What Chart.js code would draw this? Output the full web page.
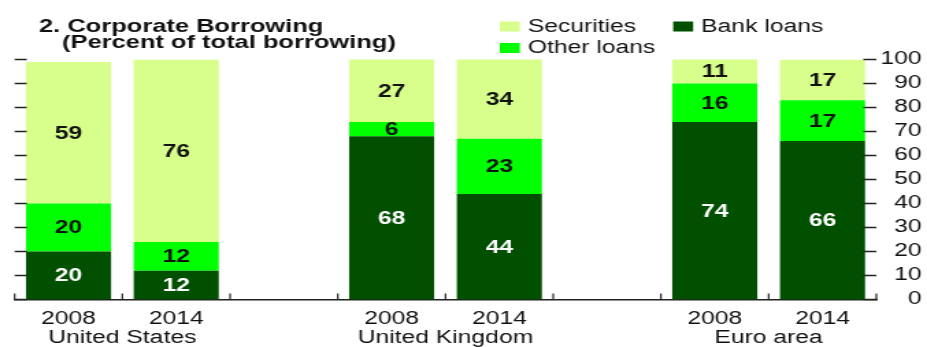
<!DOCTYPE html>
<html>
<head>
<meta charset="utf-8">
<script src="https://cdn.jsdelivr.net/npm/chart.js@4.4.0/dist/chart.umd.min.js"></script>
<style>
  html, body { margin: 0; padding: 0; background: #fff; overflow: hidden; }
  /* the panel is laid out narrow and stretched sideways, like the printed figure */
  #wrap { width: 677px; height: 347px; transform: scaleX(1.3693); transform-origin: 0 0; }
</style>
</head>
<body>
<div id="wrap"><canvas id="borrowing" width="677" height="347"></canvas></div>
<script>
// share of total corporate borrowing, percent (blank slots separate the regions)
const years = ['2008', '2014', '', '2008', '2014', '', '2008', '2014'];
const regions = ['United States', 'United Kingdom', 'Euro area'];
const bankLoans = [20, 12, null, 68, 44, null, 74, 66];
const otherLoans = [20, 12, null, 6, 23, null, 16, 17];
const securities = [59, 76, null, 27, 34, null, 11, 17];

const FONT = '"Liberation Sans", Arial, Helvetica, sans-serif';
const INK = '#111';

const titlePlugin = {
  id: 'panelTitle',
  afterDraw(chart) {
    const ctx = chart.ctx;
    ctx.save();
    ctx.fillStyle = INK;
    ctx.font = `bold 18.6px ${FONT}`;
    ctx.textBaseline = 'alphabetic';
    ctx.fillText('2. Corporate Borrowing', 28.5, 31.5);
    ctx.fillText('(Percent of total borrowing)', 45.3, 47.5);
    ctx.restore();
  }
};

// two-row legend: Securities / Bank loans, then Other loans
const legendPlugin = {
  id: 'panelLegend',
  afterDraw(chart) {
    const ctx = chart.ctx;
    const items = [
      { ds: 2, x: 365, y: 21.5 },
      { ds: 0, x: 491.6, y: 21.5 },
      { ds: 1, x: 365, y: 43 }
    ];
    ctx.save();
    ctx.font = `18px ${FONT}`;
    ctx.textBaseline = 'alphabetic';
    items.forEach(it => {
      const ds = chart.data.datasets[it.ds];
      ctx.fillStyle = ds.backgroundColor;
      ctx.fillRect(it.x, it.y, 14.6, 10);
      ctx.fillStyle = INK;
      ctx.fillText(ds.label, it.x + 20.5, it.y + 10);
    });
    ctx.restore();
  }
};

// value labels in the middle of each stacked segment
const valueLabels = {
  id: 'valueLabels',
  afterDatasetsDraw(chart) {
    const ctx = chart.ctx;
    const top = chart.chartArea.top;
    ctx.save();
    ctx.font = `bold 18px ${FONT}`;
    ctx.textAlign = 'center';
    ctx.textBaseline = 'middle';
    chart.data.datasets.forEach((ds, i) => {
      const meta = chart.getDatasetMeta(i);
      meta.data.forEach((bar, j) => {
        const v = ds.data[j];
        if (v == null) return;
        const y0 = Math.max(bar.y, top);
        ctx.fillStyle = ds.labelColor;
        ctx.fillText(String(v), bar.x, (y0 + bar.base) / 2 + 1);
      });
    });
    ctx.restore();
  }
};

// short inward tick marks on both sides and at the category breaks
const tickMarks = {
  id: 'tickMarks',
  afterDraw(chart) {
    const { ctx, chartArea: area } = chart;
    const y = chart.scales.y;
    const x2 = chart.scales.x2;
    ctx.save();
    ctx.strokeStyle = '#222';
    ctx.lineWidth = 1.5;
    ctx.beginPath();
    for (let v = 0; v <= 100; v += 10) {
      const py = y.getPixelForValue(v);
      ctx.moveTo(area.left, py);
      ctx.lineTo(area.left + 8.8, py);
      ctx.moveTo(area.right - 9.5, py);
      ctx.lineTo(area.right, py);
    }
    ctx.stroke();
    ctx.lineWidth = 1.2;
    ctx.beginPath();
    for (let k = 0; k <= years.length; k++) {
      const px = x2.getPixelForValue(k);
      ctx.moveTo(px, area.bottom);
      ctx.lineTo(px, area.bottom - 6);
    }
    ctx.stroke();
    ctx.restore();
  }
};

new Chart(document.getElementById('borrowing'), {
  type: 'bar',
  data: {
    labels: years,
    datasets: [
      { label: 'Bank loans', data: bankLoans, backgroundColor: '#005000', labelColor: '#fff' },
      { label: 'Other loans', data: otherLoans, backgroundColor: '#00ff00', labelColor: INK },
      { label: 'Securities', data: securities, backgroundColor: '#d8fe8c', labelColor: INK }
    ]
  },
  options: {
    responsive: false,
    animation: false,
    devicePixelRatio: 1,
    layout: { padding: { left: 10.7, right: 4, top: 59.5, bottom: 0 } },
    datasets: { bar: { barPercentage: 0.79, categoryPercentage: 1 } },
    plugins: { legend: { display: false }, tooltip: { enabled: false } },
    scales: {
      x: {
        stacked: true,
        grid: { display: false, drawTicks: false },
        border: { display: true, color: '#222', width: 1.5 },
        ticks: { color: INK, font: { family: FONT, size: 18 }, padding: 9, maxRotation: 0, autoSkip: false },
        afterFit: s => { s.height = 28; }
      },
      // region names sit under the break between each pair of years
      x2: {
        type: 'linear',
        position: 'bottom',
        min: 0,
        max: years.length,
        offset: false,
        grid: { display: false, drawTicks: false, offset: false },
        border: { display: false },
        afterBuildTicks: s => { s.ticks = regions.map((_, g) => ({ value: 3 * g + 1 })); },
        ticks: {
          color: INK, font: { family: FONT, size: 18 }, padding: 0, maxRotation: 0, autoSkip: false,
          callback: v => regions[(v - 1) / 3]
        },
        afterFit: s => { s.height = 19.5; }
      },
      y: {
        stacked: true,
        position: 'right',
        min: 0,
        max: 100,
        grid: { display: false, drawTicks: false },
        border: { display: false },
        ticks: { stepSize: 10, autoSkip: false, crossAlign: 'far', padding: 3, color: INK, font: { family: FONT, size: 18 } },
        afterFit: s => { s.width = 33; }
      }
    }
  },
  plugins: [valueLabels, tickMarks, titlePlugin, legendPlugin]
});
</script>
</body>
</html>
